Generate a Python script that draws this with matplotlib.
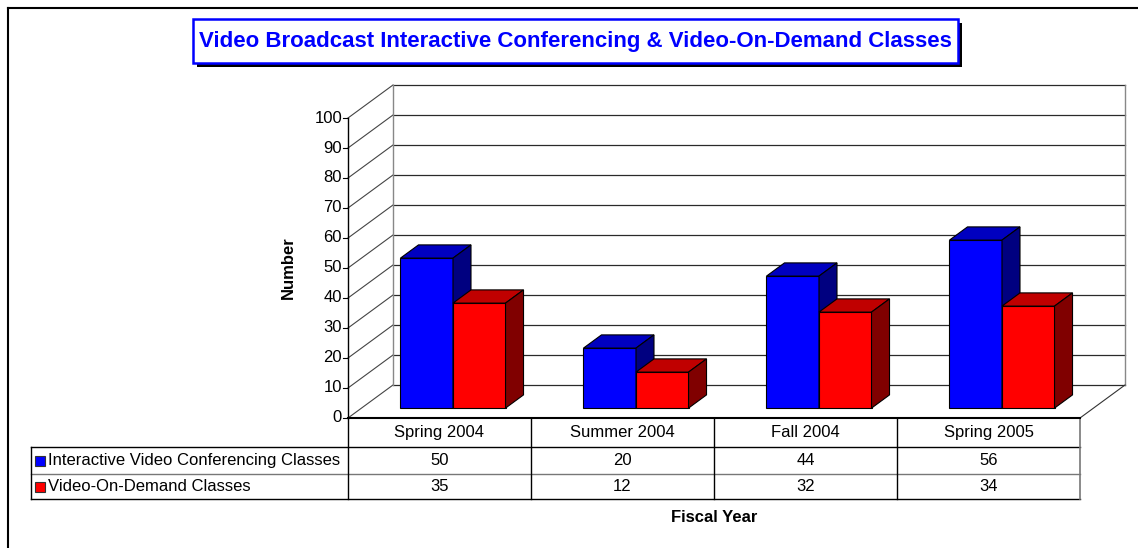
import matplotlib
matplotlib.use("Agg")
import matplotlib.pyplot as plt
from matplotlib.patches import Polygon, Rectangle
from matplotlib.lines import Line2D

plt.rcParams['font.family'] = ['Liberation Sans', 'DejaVu Sans']

# data
categories = ['Spring 2004', 'Summer 2004', 'Fall 2004', 'Spring 2005']
series_names = ['Interactive Video Conferencing Classes', 'Video-On-Demand Classes']
interactive = [50, 20, 44, 56]
on_demand = [35, 12, 32, 34]
y_ticks = list(range(0, 101, 10))

W, H = 1138, 548
fs = 12
fig = plt.figure(figsize=(W / 100, H / 100), dpi=100)
ax = fig.add_axes([0, 0, 1, 1])
ax.axis('off')

# pixel layout of the plot area: category 0 starts at x=348, one category = 183 px,
# value 0 at y=418, 3 px per unit
x0, cw, y0, vu = 348, 183.0, 418, 3.0
ax.set_xlim(-x0 / cw, (W - x0) / cw)
ax.set_ylim((y0 - H) / vu, y0 / vu)

DX, DY = 45 / cw, 33 / vu   # depth offset of back wall


def proj(x, v, d):
    return (x + d * DX, v + d * DY)


n = len(categories)
grid_c = '#2a2a2a'

# back wall gridlines + left wall diagonals
for t in y_ticks:
    xa, ya = proj(0, t, 1)
    xb, yb = proj(n, t, 1)
    ax.plot([xa, xb], [ya, yb], color=grid_c, lw=0.9, zorder=1)
    xs, ys = proj(0, t, 0)
    ax.plot([xs, xa], [ys, ya], color='#444444', lw=0.8, zorder=1)
# back wall verticals
for xx in (0, n):
    p1, p2 = proj(xx, 0, 1), proj(xx, 100, 1)
    ax.plot([p1[0], p2[0]], [p1[1], p2[1]], color='#888888', lw=1.0, zorder=1)
# floor right edge
p1, p2 = proj(n, 0, 0), proj(n, 0, 1)
ax.plot([p1[0], p2[0]], [p1[1], p2[1]], color='#333333', lw=0.8, zorder=1)

# value axis
ax.plot([0, 0], [0, 100], color='black', lw=1.0, zorder=3)
for t in y_ticks:
    ax.plot([-5 / cw, 0], [t, t], color='black', lw=0.8, zorder=3)
    ax.text(-6 / cw, t, str(t), ha='right', va='center', fontsize=fs)

# 3D bars
bw = 0.287
d0, d1 = 0.3, 0.7
colors = [('#0000FF', '#0000C0', '#000080'), ('#FF0000', '#C00000', '#800000')]


def bar3d(xl, h, cols):
    xr = xl + bw
    front = [proj(xl, 0, d0), proj(xr, 0, d0), proj(xr, h, d0), proj(xl, h, d0)]
    top = [proj(xl, h, d0), proj(xr, h, d0), proj(xr, h, d1), proj(xl, h, d1)]
    side = [proj(xr, 0, d0), proj(xr, 0, d1), proj(xr, h, d1), proj(xr, h, d0)]
    for pts, c in ((front, cols[0]), (top, cols[1]), (side, cols[2])):
        ax.add_patch(Polygon(pts, closed=True, facecolor=c, edgecolor='black',
                             lw=0.8, zorder=2))


for i in range(n):
    bar3d(i + 0.5 - bw, interactive[i], colors[0])
    bar3d(i + 0.5, on_demand[i], colors[1])

# data table
r1, r2, r3 = -29 / vu, -56 / vu, -81 / vu
xleg = (31 - x0) / cw
ax.plot([0, n], [0, 0], color='black', lw=1.5, zorder=3)
ax.plot([xleg, n], [r1, r1], color='black', lw=1.0, clip_on=False)
ax.plot([xleg, n], [r2, r2], color='#777777', lw=1.0, clip_on=False)
ax.plot([xleg, n], [r3, r3], color='black', lw=1.0, clip_on=False)
ax.plot([xleg, xleg], [r1, r3], color='black', lw=1.0, clip_on=False)
for i in range(n):
    ax.plot([i, i], [0, r3], color='black', lw=1.0, clip_on=False)
ax.plot([n, n], [0, r3], color='#777777', lw=1.2, clip_on=False)

for i, cat in enumerate(categories):
    ax.text(i + 0.5, r1 / 2, cat, ha='center', va='center', fontsize=fs)
    ax.text(i + 0.5, (r1 + r2) / 2, str(interactive[i]), ha='center', va='center', fontsize=fs)
    ax.text(i + 0.5, (r2 + r3) / 2, str(on_demand[i]), ha='center', va='center', fontsize=fs)

for k, (name, ymid) in enumerate(zip(series_names, [(r1 + r2) / 2, (r2 + r3) / 2])):
    ax.plot([(40 - x0) / cw], [ymid], marker='s', ms=7, mfc=colors[k][0],
            mec='#333333', mew=0.8, clip_on=False)
    ax.text((48 - x0) / cw, ymid, name, ha='left', va='center', fontsize=fs)


def fx(px):
    return px / W


def fy(py):
    return 1 - py / H


# axis titles
fig.text(fx(288), fy(268), 'Number', rotation=90, ha='center', va='center',
         fontsize=fs, fontweight='bold')
fig.text(fx(714), fy(518), 'Fiscal Year', ha='center', va='center',
         fontsize=fs, fontweight='bold')

# title box with shadow
bx0, bx1, by0, by1 = 193, 958, 19, 63
fig.patches.append(Rectangle((fx(bx0 + 4), fy(by1 + 4)), fx(bx1 - bx0), (by1 - by0) / H,
                             transform=fig.transFigure, facecolor='black', edgecolor='none'))
fig.patches.append(Rectangle((fx(bx0), fy(by1)), fx(bx1 - bx0), (by1 - by0) / H,
                             transform=fig.transFigure, facecolor='white',
                             edgecolor='#0000FF', lw=1.8))
fig.text(fx((bx0 + bx1) / 2), fy((by0 + by1) / 2),
         'Video Broadcast Interactive Conferencing & Video-On-Demand Classes',
         ha='center', va='center', fontsize=16, fontweight='bold', color='#0000FF')

# outer frame
fig.lines.append(Line2D([fx(8), fx(8)], [fy(8), 0], transform=fig.transFigure,
                        color='black', lw=1.5))
fig.lines.append(Line2D([fx(8), 1], [fy(8), fy(8)], transform=fig.transFigure,
                        color='black', lw=1.5))

fig.savefig('out.png', dpi=100)
